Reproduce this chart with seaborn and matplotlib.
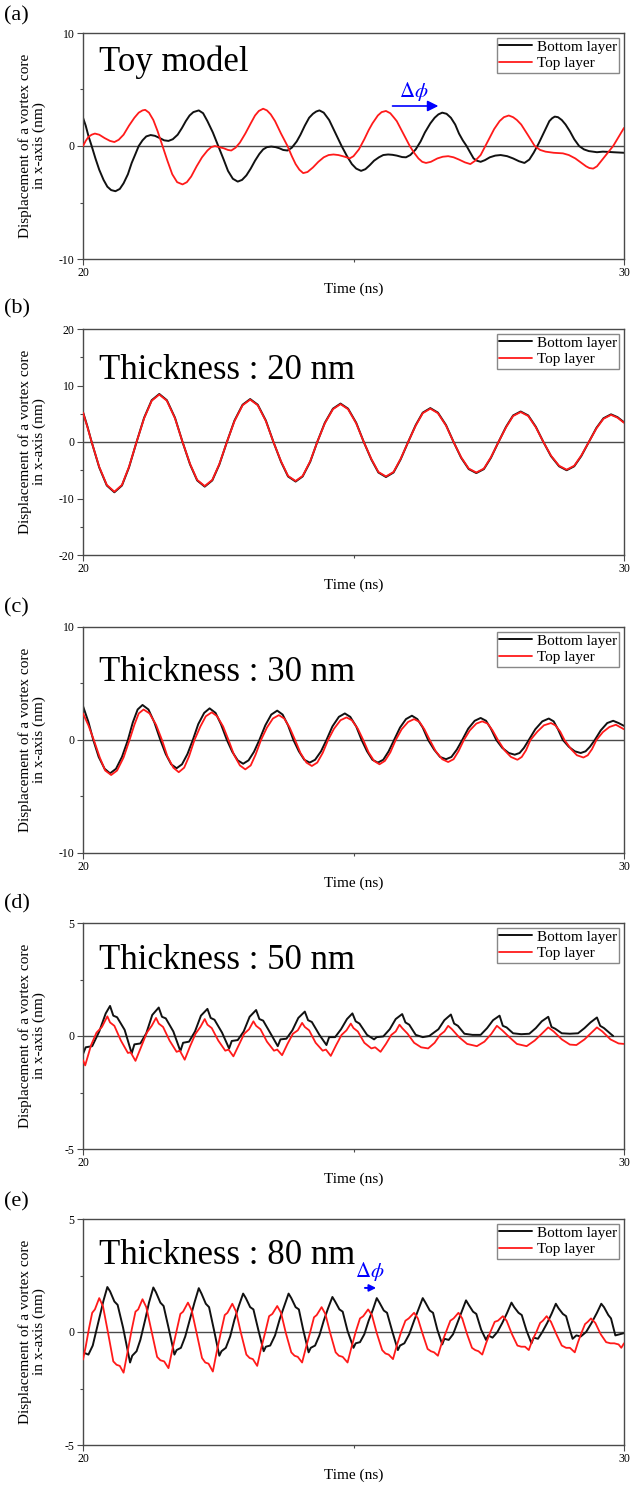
import matplotlib
matplotlib.use("Agg")
import matplotlib.pyplot as plt
import seaborn as sns

# (a) Toy model
t_a_bot = [20.0, 20.05, 20.1, 20.16, 20.23, 20.3, 20.38, 20.45, 20.52, 20.6,
           20.68, 20.75, 20.83, 20.9, 20.97, 21.03, 21.1, 21.17, 21.25, 21.33,
           21.42, 21.5, 21.58, 21.66, 21.75, 21.83, 21.9, 21.97, 22.04, 22.14,
           22.22, 22.3, 22.4, 22.5, 22.6, 22.68, 22.77, 22.86, 22.94, 23.02,
           23.1, 23.18, 23.26, 23.33, 23.4, 23.48, 23.56, 23.63, 23.7, 23.78,
           23.86, 23.95, 24.02, 24.1, 24.18, 24.25, 24.31, 24.37, 24.45, 24.55,
           24.66, 24.78, 24.88, 24.97, 25.05, 25.14, 25.22, 25.3, 25.38, 25.47,
           25.55, 25.64, 25.72, 25.8, 25.9, 25.97, 26.05, 26.15, 26.24, 26.32,
           26.42, 26.5, 26.57, 26.64, 26.72, 26.8, 26.88, 26.95, 27.02, 27.09,
           27.16, 27.22, 27.28, 27.35, 27.43, 27.52, 27.62, 27.72, 27.84, 27.95,
           28.06, 28.16, 28.25, 28.33, 28.42, 28.5, 28.57, 28.62, 28.67, 28.72,
           28.78, 28.85, 28.92, 29.0, 29.08, 29.17, 29.26, 29.35, 29.5, 29.61,
           29.7, 29.8, 30.0]
y_a_bot = [2.5, 1.8, 0.9, 0.0, -1.1, -2.1, -3.0, -3.6, -3.9, -4.0,
           -3.8, -3.3, -2.5, -1.5, -0.7, 0.0, 0.5, 0.85, 0.97, 0.9,
           0.7, 0.5, 0.45, 0.6, 1.0, 1.6, 2.2, 2.7, 3.0, 3.15,
           2.9, 2.2, 1.2, 0.0, -1.2, -2.2, -2.9, -3.15, -3.0, -2.6,
           -2.0, -1.3, -0.7, -0.3, -0.1, -0.05, -0.1, -0.2, -0.35, -0.4,
           -0.15, 0.4, 1.0, 1.8, 2.5, 2.85, 3.05, 3.15, 2.95, 2.3,
           1.2, 0.0, -0.9, -1.6, -2.0, -2.2, -2.05, -1.7, -1.3, -1.0,
           -0.8, -0.75, -0.78, -0.85, -0.98, -1.0, -0.8, -0.3, 0.4, 1.2,
           2.0, 2.5, 2.8, 2.95, 2.85, 2.5, 1.9, 1.1, 0.5, 0.0,
           -0.6, -1.1, -1.3, -1.4, -1.25, -1.0, -0.85, -0.8, -0.9, -1.1,
           -1.35, -1.5, -1.2, -0.6, 0.2, 1.0, 1.7, 2.2, 2.45, 2.6,
           2.55, 2.3, 1.9, 1.3, 0.6, 0.0, -0.3, -0.45, -0.55, -0.5,
           -0.52, -0.55, -0.6]
t_a_top = [20.0, 20.05, 20.1, 20.16, 20.22, 20.3, 20.4, 20.5, 20.58, 20.66,
           20.75, 20.85, 20.95, 21.03, 21.1, 21.15, 21.22, 21.3, 21.38, 21.47,
           21.56, 21.65, 21.74, 21.84, 21.92, 22.0, 22.1, 22.2, 22.3, 22.37,
           22.44, 22.52, 22.6, 22.68, 22.74, 22.82, 22.9, 23.0, 23.1, 23.18,
           23.25, 23.33, 23.4, 23.47, 23.55, 23.66, 23.78, 23.86, 23.93, 24.0,
           24.07, 24.15, 24.25, 24.35, 24.45, 24.54, 24.63, 24.72, 24.8, 24.87,
           24.93, 25.0, 25.1, 25.2, 25.28, 25.35, 25.45, 25.52, 25.6, 25.68,
           25.75, 25.8, 25.92, 26.04, 26.12, 26.2, 26.27, 26.34, 26.43, 26.55,
           26.65, 26.75, 26.85, 26.95, 27.06, 27.16, 27.25, 27.35, 27.47, 27.6,
           27.7, 27.78, 27.87, 27.95, 28.02, 28.1, 28.22, 28.35, 28.45, 28.55,
           28.7, 28.87, 28.98, 29.1, 29.2, 29.3, 29.36, 29.43, 29.5, 29.6,
           29.7, 29.8, 29.9, 30.0]
y_a_top = [0.0, 0.45, 0.8, 1.0, 1.1, 1.0, 0.7, 0.45, 0.35, 0.55,
           1.0, 1.8, 2.5, 2.95, 3.15, 3.2, 2.95, 2.3, 1.3, 0.0,
           -1.3, -2.5, -3.2, -3.4, -3.2, -2.7, -1.8, -1.0, -0.4, -0.1,
           0.0, -0.1, -0.2, -0.35, -0.4, -0.15, 0.3, 1.1, 2.0, 2.7,
           3.1, 3.3, 3.15, 2.8, 2.2, 1.1, 0.0, -0.9, -1.6, -2.1,
           -2.4, -2.3, -1.9, -1.4, -1.0, -0.8, -0.75, -0.8, -0.9, -1.0,
           -1.1, -0.9, -0.3, 0.6, 1.4, 2.0, 2.7, 3.0, 3.1, 2.9,
           2.5, 2.2, 1.1, 0.0, -0.6, -1.1, -1.4, -1.5, -1.4, -1.1,
           -0.95, -0.9, -1.0, -1.2, -1.45, -1.6, -1.3, -0.8, 0.3, 1.5,
           2.2, 2.55, 2.7, 2.55, 2.3, 1.9, 1.0, 0.0, -0.35, -0.5,
           -0.6, -0.65, -0.8, -1.1, -1.45, -1.8, -1.95, -2.0, -1.8, -1.2,
           -0.6, 0.0, 0.8, 1.6]

# (b) 20 nm
t_b = [20.0, 20.08, 20.16, 20.30, 20.44, 20.58, 20.72, 20.85, 20.99, 21.13, 21.27, 21.41, 21.55, 21.70, 21.84,
       21.98, 22.11, 22.25, 22.39, 22.52, 22.66, 22.80, 22.95, 23.09, 23.23, 23.38, 23.52, 23.66, 23.79, 23.93,
       24.06, 24.20, 24.33, 24.47, 24.62, 24.76, 24.90, 25.05, 25.19, 25.33, 25.46, 25.60, 25.74, 25.87, 26.01,
       26.15, 26.28, 26.42, 26.56, 26.71, 26.85, 26.99, 27.13, 27.27, 27.41, 27.54, 27.68, 27.82, 27.95, 28.09,
       28.23, 28.37, 28.51, 28.65, 28.80, 28.94, 29.08, 29.21, 29.35, 29.49, 29.62, 29.76, 29.88, 30.0]
y_b_bot = [5.3, 2.8, 0.0, -4.5, -7.7, -8.9, -7.7, -4.5, 0.0, 4.3, 7.4, 8.5, 7.4, 4.3, 0.0,
           -4.0, -6.8, -7.9, -6.8, -4.0, 0.0, 3.8, 6.6, 7.6, 6.6, 3.8, 0.0, -3.5, -6.1, -7.0,
           -6.1, -3.5, 0.0, 3.4, 5.9, 6.8, 5.9, 3.4, 0.0, -3.1, -5.4, -6.2, -5.4, -3.1, 0.0,
           3.0, 5.2, 6.0, 5.2, 3.0, 0.0, -2.8, -4.8, -5.5, -4.8, -2.8, 0.0, 2.7, 4.7, 5.4,
           4.7, 2.7, 0.0, -2.5, -4.3, -5.0, -4.3, -2.5, 0.0, 2.5, 4.2, 4.9, 4.4, 3.5]
y_b_top = [5.2, 2.7, 0.0, -4.4, -7.6, -8.8, -7.6, -4.4, 0.0, 4.2, 7.3, 8.4, 7.3, 4.2, 0.0,
           -3.9, -6.7, -7.8, -6.7, -3.9, 0.0, 3.7, 6.5, 7.5, 6.5, 3.7, 0.0, -3.4, -6.0, -6.9,
           -6.0, -3.4, 0.0, 3.3, 5.8, 6.7, 5.8, 3.3, 0.0, -3.0, -5.3, -6.1, -5.3, -3.0, 0.0,
           2.9, 5.1, 5.9, 5.1, 2.9, 0.0, -2.7, -4.7, -5.4, -4.7, -2.7, 0.0, 2.6, 4.6, 5.3,
           4.6, 2.6, 0.0, -2.4, -4.2, -4.9, -4.2, -2.4, 0.0, 2.4, 4.1, 4.8, 4.3, 3.4]

# (c) 30 nm
t_c_bot = [20.0, 20.1, 20.19, 20.29, 20.4, 20.5, 20.61, 20.72, 20.83, 20.92, 21.01, 21.1, 21.21, 21.32, 21.43,
           21.53, 21.63, 21.73, 21.83, 21.93, 22.03, 22.13, 22.24, 22.34, 22.45, 22.55, 22.66, 22.76, 22.86, 22.96,
           23.06, 23.16, 23.26, 23.37, 23.48, 23.59, 23.69, 23.79, 23.89, 23.99, 24.09, 24.19, 24.29, 24.4, 24.5,
           24.61, 24.73, 24.84, 24.94, 25.05, 25.15, 25.25, 25.35, 25.45, 25.55, 25.65, 25.75, 25.86, 25.97, 26.08,
           26.18, 26.28, 26.38, 26.49, 26.6, 26.71, 26.81, 26.91, 27.01, 27.12, 27.24, 27.35, 27.45, 27.54, 27.64,
           27.75, 27.87, 27.98, 28.07, 28.15, 28.24, 28.36, 28.49, 28.61, 28.7, 28.78, 28.87, 28.98, 29.09, 29.2,
           29.29, 29.37, 29.46, 29.57, 29.69, 29.8, 29.9, 30.0]
y_c_bot = [3.0, 1.6, 0.0, -1.5, -2.55, -2.95, -2.55, -1.5, 0.0, 1.55, 2.7, 3.1, 2.7, 1.55, 0.0,
           -1.25, -2.15, -2.5, -2.15, -1.25, 0.0, 1.4, 2.4, 2.8, 2.4, 1.4, 0.0, -1.05, -1.8, -2.1,
           -1.8, -1.05, 0.0, 1.3, 2.25, 2.6, 2.25, 1.3, 0.0, -1.0, -1.75, -2.0, -1.75, -1.0, 0.0,
           1.2, 2.05, 2.35, 2.05, 1.2, 0.0, -1.0, -1.75, -2.0, -1.75, -1.0, 0.0, 1.1, 1.85, 2.15,
           1.85, 1.1, 0.0, -0.85, -1.5, -1.7, -1.5, -0.85, 0.0, 1.0, 1.7, 1.95, 1.7, 1.0, 0.0,
           -0.7, -1.15, -1.3, -1.15, -0.7, 0.0, 0.95, 1.65, 1.9, 1.65, 0.95, 0.0, -0.6, -1.0, -1.15,
           -1.0, -0.6, 0.0, 0.85, 1.5, 1.7, 1.5, 1.25]
t_c_top = [20.0, 20.1, 20.2, 20.31, 20.41, 20.52, 20.63, 20.75, 20.86, 20.95, 21.03, 21.12, 21.23, 21.35, 21.46,
           21.56, 21.67, 21.77, 21.87, 21.96, 22.06, 22.17, 22.27, 22.38, 22.48, 22.59, 22.69, 22.79, 22.9, 23.0,
           23.1, 23.19, 23.29, 23.4, 23.51, 23.62, 23.72, 23.82, 23.92, 24.02, 24.13, 24.23, 24.33, 24.43, 24.53,
           24.64, 24.76, 24.87, 24.97, 25.08, 25.18, 25.28, 25.38, 25.48, 25.58, 25.68, 25.78, 25.89, 26.01, 26.12,
           26.22, 26.31, 26.41, 26.52, 26.64, 26.75, 26.85, 26.94, 27.04, 27.15, 27.27, 27.38, 27.48, 27.57, 27.67,
           27.79, 27.91, 28.03, 28.11, 28.19, 28.27, 28.4, 28.52, 28.65, 28.73, 28.82, 28.9, 29.02, 29.13, 29.25,
           29.33, 29.41, 29.49, 29.61, 29.73, 29.85, 30.0]
y_c_top = [2.35, 1.3, 0.0, -1.55, -2.7, -3.1, -2.7, -1.55, 0.0, 1.35, 2.35, 2.7, 2.35, 1.35, 0.0,
           -1.45, -2.45, -2.85, -2.45, -1.45, 0.0, 1.2, 2.1, 2.45, 2.1, 1.2, 0.0, -1.3, -2.25, -2.6,
           -2.25, -1.3, 0.0, 1.1, 1.9, 2.2, 1.9, 1.1, 0.0, -1.15, -2.0, -2.3, -2.0, -1.15, 0.0,
           1.0, 1.75, 2.0, 1.75, 1.0, 0.0, -1.1, -1.85, -2.15, -1.85, -1.1, 0.0, 0.95, 1.6, 1.85,
           1.6, 0.95, 0.0, -1.0, -1.7, -1.95, -1.7, -1.0, 0.0, 0.85, 1.45, 1.65, 1.45, 0.85, 0.0,
           -0.9, -1.5, -1.75, -1.5, -0.9, 0.0, 0.75, 1.3, 1.5, 1.3, 0.75, 0.0, -0.8, -1.35, -1.55,
           -1.35, -0.8, 0.0, 0.7, 1.15, 1.35, 0.95]

# (d) 50 nm
t_d_bot = [20.0, 20.05, 20.17, 20.3, 20.42, 20.5, 20.56, 20.63, 20.77, 20.9,
           20.95, 21.06, 21.17, 21.28, 21.4, 21.46, 21.53, 21.67, 21.8, 21.85,
           21.96, 22.07, 22.18, 22.3, 22.36, 22.43, 22.57, 22.7, 22.75, 22.86,
           22.97, 23.08, 23.2, 23.26, 23.33, 23.47, 23.6, 23.65, 23.76, 23.87,
           23.98, 24.1, 24.16, 24.23, 24.37, 24.5, 24.55, 24.66, 24.77, 24.88,
           24.98, 25.04, 25.11, 25.25, 25.38, 25.43, 25.55, 25.67, 25.78, 25.9,
           25.96, 26.03, 26.15, 26.28, 26.4, 26.57, 26.68, 26.8, 26.86, 26.93,
           27.05, 27.2, 27.35, 27.47, 27.58, 27.7, 27.76, 27.83, 27.95, 28.1,
           28.25, 28.37, 28.48, 28.6, 28.66, 28.73, 28.85, 29.0, 29.15, 29.27,
           29.38, 29.5, 29.56, 29.63, 29.75, 29.8]
y_d_bot = [-0.8, -0.5, -0.45, 0.2, 1.0, 1.33, 0.9, 0.83, 0.27, -0.77,
           -0.37, -0.33, 0.12, 0.93, 1.26, 0.85, 0.78, 0.2, -0.67, -0.3,
           -0.25, 0.2, 0.9, 1.2, 0.8, 0.72, 0.15, -0.55, -0.22, -0.18,
           0.2, 0.85, 1.15, 0.75, 0.68, 0.1, -0.45, -0.15, -0.12, 0.25,
           0.8, 1.08, 0.7, 0.62, 0.05, -0.4, -0.05, -0.05, 0.3, 0.75,
           1.0, 0.65, 0.55, 0.05, -0.15, -0.05, -0.02, 0.3, 0.75, 0.97,
           0.6, 0.5, 0.05, -0.05, 0.0, 0.3, 0.7, 0.95, 0.55, 0.45,
           0.1, 0.05, 0.05, 0.35, 0.7, 0.9, 0.45, 0.38, 0.12, 0.08,
           0.1, 0.35, 0.65, 0.85, 0.4, 0.32, 0.12, 0.1, 0.12, 0.35,
           0.6, 0.82, 0.45, 0.35, 0.1, 0.0]
t_d_top = [20.0, 20.04, 20.15, 20.25, 20.35, 20.45, 20.5, 20.58, 20.7, 20.83,
           20.88, 20.97, 21.08, 21.18, 21.27, 21.35, 21.4, 21.48, 21.6, 21.73,
           21.79, 21.88, 21.98, 22.08, 22.17, 22.25, 22.3, 22.38, 22.5, 22.63,
           22.69, 22.78, 22.88, 22.98, 23.07, 23.15, 23.2, 23.28, 23.4, 23.53,
           23.59, 23.68, 23.78, 23.88, 23.97, 24.05, 24.1, 24.18, 24.3, 24.43,
           24.49, 24.58, 24.68, 24.78, 24.87, 24.95, 25.0, 25.08, 25.2, 25.33,
           25.4, 25.5, 25.6, 25.7, 25.78, 25.85, 25.9, 26.0, 26.12, 26.25,
           26.38, 26.5, 26.6, 26.68, 26.75, 26.82, 26.95, 27.1, 27.28, 27.42,
           27.55, 27.65, 27.75, 27.88, 28.02, 28.2, 28.35, 28.48, 28.6, 28.7,
           28.85, 29.0, 29.12, 29.27, 29.4, 29.5, 29.6, 29.75, 29.9, 30.0]
y_d_top = [-1.07, -1.3, -0.4, 0.15, 0.4, 0.87, 0.6, 0.45, -0.2, -0.75,
           -0.72, -1.1, -0.45, 0.15, 0.45, 0.8, 0.55, 0.4, -0.2, -0.7,
           -0.65, -1.05, -0.45, 0.1, 0.4, 0.75, 0.5, 0.35, -0.2, -0.65,
           -0.6, -0.9, -0.4, 0.1, 0.3, 0.65, 0.45, 0.3, -0.25, -0.65,
           -0.6, -0.85, -0.35, 0.1, 0.25, 0.58, 0.4, 0.25, -0.3, -0.65,
           -0.6, -0.88, -0.4, 0.05, 0.25, 0.55, 0.35, 0.2, -0.3, -0.55,
           -0.5, -0.7, -0.35, 0.05, 0.2, 0.5, 0.35, 0.1, -0.3, -0.5,
           -0.55, -0.3, 0.05, 0.2, 0.45, 0.3, -0.05, -0.35, -0.45, -0.25,
           0.1, 0.45, 0.25, -0.05, -0.35, -0.45, -0.2, 0.1, 0.38, 0.2,
           -0.15, -0.38, -0.4, -0.15, 0.15, 0.38, 0.2, -0.15, -0.33, -0.35]

# (e) 80 nm
t_e_bot = [20.0, 20.05, 20.1, 20.18, 20.28, 20.38,
           20.45, 20.5, 20.58, 20.64, 20.74, 20.87, 20.91, 20.99, 21.06, 21.15, 21.22,
           21.3, 21.35, 21.43, 21.49, 21.58, 21.69, 21.73, 21.81, 21.89, 21.98, 22.06,
           22.14, 22.19, 22.27, 22.33, 22.42, 22.52, 22.56, 22.64, 22.72, 22.8, 22.88,
           22.96, 23.01, 23.09, 23.15, 23.24, 23.34, 23.38, 23.46, 23.55, 23.64, 23.72,
           23.8, 23.85, 23.93, 23.99, 24.07, 24.17, 24.21, 24.29, 24.37, 24.45, 24.53,
           24.61, 24.66, 24.74, 24.8, 24.89, 25.0, 25.04, 25.12, 25.2, 25.28, 25.36,
           25.43, 25.48, 25.56, 25.62, 25.72, 25.82, 25.86, 25.94, 26.03, 26.12, 26.2,
           26.28, 26.33, 26.41, 26.47, 26.55, 26.64, 26.68, 26.76, 26.84, 26.92, 27.0,
           27.08, 27.13, 27.21, 27.27, 27.36, 27.45, 27.49, 27.57, 27.66, 27.75, 27.84,
           27.92, 27.97, 28.05, 28.11, 28.2, 28.29, 28.33, 28.41, 28.49, 28.58, 28.66,
           28.74, 28.79, 28.87, 28.93, 29.0, 29.05, 29.12, 29.2, 29.3, 29.4, 29.5,
           29.58, 29.63, 29.71, 29.76, 29.84, 29.92, 30.0]
y_e_bot = [-0.93, -0.95, -1.0, -0.6, 0.4, 1.4,
           1.99, 1.8, 1.35, 1.2, 0.2, -1.35, -1.05, -0.85, -0.35, 0.55, 1.3,
           1.97, 1.75, 1.3, 1.15, 0.2, -1.0, -0.8, -0.7, -0.2, 0.6, 1.3,
           1.94, 1.7, 1.25, 1.1, 0.1, -1.05, -0.85, -0.7, -0.2, 0.55, 1.15,
           1.7, 1.5, 1.1, 1.0, 0.1, -0.85, -0.65, -0.6, -0.15, 0.6, 1.15,
           1.7, 1.5, 1.1, 1.0, 0.1, -0.9, -0.7, -0.6, -0.15, 0.5, 1.05,
           1.55, 1.35, 1.0, 0.9, 0.05, -0.7, -0.5, -0.45, -0.1, 0.5, 1.0,
           1.5, 1.3, 0.95, 0.85, 0.0, -0.8, -0.6, -0.5, -0.1, 0.5, 1.0,
           1.5, 1.3, 0.95, 0.85, 0.1, -0.55, -0.3, -0.35, -0.1, 0.4, 0.9,
           1.4, 1.2, 0.9, 0.8, 0.1, -0.35, -0.15, -0.25, 0.0, 0.4, 0.85,
           1.3, 1.1, 0.85, 0.75, 0.05, -0.5, -0.25, -0.3, 0.0, 0.4, 0.8,
           1.25, 1.05, 0.8, 0.7, 0.1, -0.3, -0.15, -0.2, 0.0, 0.4, 0.85,
           1.25, 1.1, 0.75, 0.6, -0.15, -0.1, -0.05]
t_e_top = [20.0, 20.05, 20.11, 20.17, 20.22,
           20.3, 20.37, 20.46, 20.56, 20.62, 20.68, 20.75, 20.82, 20.9, 20.97, 21.02,
           21.1, 21.17, 21.27, 21.37, 21.43, 21.5, 21.58, 21.65, 21.73, 21.8, 21.85,
           21.94, 22.01, 22.1, 22.2, 22.26, 22.32, 22.4, 22.47, 22.55, 22.62, 22.67,
           22.76, 22.83, 22.92, 23.02, 23.08, 23.14, 23.22, 23.29, 23.37, 23.44, 23.5,
           23.59, 23.66, 23.75, 23.85, 23.91, 23.97, 24.05, 24.12, 24.2, 24.27, 24.32,
           24.41, 24.48, 24.57, 24.67, 24.73, 24.8, 24.89, 24.96, 25.04, 25.12, 25.18,
           25.27, 25.34, 25.43, 25.53, 25.59, 25.65, 25.73, 25.8, 25.88, 25.96, 26.02,
           26.12, 26.19, 26.28, 26.37, 26.43, 26.49, 26.56, 26.63, 26.71, 26.79, 26.85,
           26.94, 27.01, 27.1, 27.19, 27.25, 27.31, 27.38, 27.45, 27.53, 27.61, 27.67,
           27.76, 27.83, 27.93, 28.03, 28.1, 28.17, 28.24, 28.3, 28.38, 28.45, 28.5,
           28.57, 28.65, 28.75, 28.85, 28.93, 29.0, 29.09, 29.15, 29.22, 29.28, 29.33,
           29.39, 29.47, 29.57, 29.67, 29.75, 29.82, 29.9, 29.95, 30.0]
y_e_top = [-1.22, -0.65, 0.15, 0.85, 1.0,
           1.5, 1.13, 0.0, -1.3, -1.45, -1.5, -1.8, -0.93, 0.1, 0.9, 1.0,
           1.45, 1.1, 0.0, -1.1, -1.25, -1.3, -1.6, -0.8, 0.05, 0.8, 0.9,
           1.3, 0.95, -0.05, -1.15, -1.35, -1.4, -1.75, -0.9, 0.0, 0.75, 0.85,
           1.25, 0.9, -0.05, -1.0, -1.15, -1.2, -1.5, -0.75, 0.0, 0.7, 0.8,
           1.15, 0.85, -0.05, -0.9, -1.05, -1.1, -1.35, -0.7, 0.0, 0.65, 0.75,
           1.1, 0.8, -0.05, -0.9, -1.05, -1.1, -1.35, -0.7, 0.0, 0.6, 0.7,
           1.0, 0.75, -0.05, -0.8, -0.95, -1.0, -1.2, -0.6, 0.0, 0.5, 0.6,
           0.85, 0.6, -0.1, -0.75, -0.85, -0.9, -1.05, -0.5, 0.0, 0.5, 0.6,
           0.85, 0.6, -0.1, -0.7, -0.8, -0.85, -1.0, -0.5, 0.0, 0.45, 0.5,
           0.7, 0.5, -0.1, -0.6, -0.65, -0.65, -0.8, -0.4, 0.0, 0.4, 0.5,
           0.7, 0.45, -0.1, -0.6, -0.7, -0.7, -0.9, -0.45, 0.0, 0.35, 0.45,
           0.6, 0.4, -0.1, -0.45, -0.5, -0.5, -0.55, -0.7, -0.5]

tags = ['(a)', '(b)', '(c)', '(d)', '(e)']
titles = ['Toy model', 'Thickness : 20 nm', 'Thickness : 30 nm', 'Thickness : 50 nm', 'Thickness : 80 nm']
ylims = [10, 20, 10, 5, 5]
ysteps = [10, 10, 10, 5, 5]
bottom_series = [(t_a_bot, y_a_bot), (t_b, y_b_bot), (t_c_bot, y_c_bot), (t_d_bot, y_d_bot), (t_e_bot, y_e_bot)]
top_series = [(t_a_top, y_a_top), (t_b, y_b_top), (t_c_top, y_c_top), (t_d_top, y_d_top), (t_e_top, y_e_top)]

sns.set_style('ticks')
plt.rcParams['font.family'] = ['Liberation Serif', 'DejaVu Serif']
plt.rcParams['mathtext.fontset'] = 'stix'
plt.rcParams['axes.unicode_minus'] = False
for key in ['text.color', 'axes.labelcolor', 'xtick.labelcolor', 'ytick.labelcolor']:
    plt.rcParams[key] = 'black'

W, H = 631, 1485
fig = plt.figure(figsize=(W / 100, H / 100), dpi=100)

ax_bottom_px = [259, 555, 853, 1149, 1445]
tag_y_px = [16, 309, 608, 904, 1202]
title_y = [0.872, 0.815, 0.797, 0.836, 0.84]
spine_col = '#4a4a4a'

for i in range(5):
    ax = fig.add_axes([83 / W, 1 - ax_bottom_px[i] / H, 541 / W, 226 / H])
    L = ylims[i]

    ax.axhline(0, color=spine_col, lw=1.0, zorder=1)
    sns.lineplot(x=bottom_series[i][0], y=bottom_series[i][1], ax=ax, color='#111111', lw=1.4,
                 label='Bottom layer', sort=False, estimator=None, zorder=2)
    sns.lineplot(x=top_series[i][0], y=top_series[i][1], ax=ax, color='#ff1a1a', lw=1.3,
                 label='Top layer', sort=False, estimator=None, zorder=3)

    ax.set_xlim(20, 30)
    ax.set_ylim(-L, L)
    ax.set_xticks([20, 30])
    ax.set_xticks([25], minor=True)
    step = ysteps[i]
    major = [v for v in range(-L, L + 1, step)]
    ax.set_yticks(major)
    ax.set_yticks([v + step / 2 for v in major[:-1]], minor=True)
    ax.tick_params(which='major', direction='out', length=4, width=0.8, color=spine_col,
                   labelsize=8.5, pad=2)
    ax.tick_params(which='minor', direction='out', length=2.5, width=0.8, color=spine_col)
    for sp in ax.spines.values():
        sp.set_color(spine_col)
        sp.set_linewidth(1.0)

    ax.set_xlabel('Time (ns)', fontsize=11)
    ax.set_ylabel('Displacement of a vortex core\nin x-axis (nm)', fontsize=11, linespacing=1.1)
    ax.xaxis.set_label_coords(0.5, -0.105)
    ax.yaxis.set_label_coords(-0.068, 0.5)

    ax.text(0.03, title_y[i], titles[i], transform=ax.transAxes, fontsize=25,
            ha='left', va='center')

    ax.legend(loc='upper right', frameon=True, fancybox=False, edgecolor='#888888',
              framealpha=1, fontsize=11, handlelength=2.2, handletextpad=0.3,
              borderpad=0.15, labelspacing=0.2, borderaxespad=0.3)

    fig.text(4 / W, 1 - tag_y_px[i] / H, tags[i], fontsize=16, ha='left', va='center')

# phase shift markers
axes = fig.axes
ax_a, ax_e = axes[0], axes[4]
ax_a.annotate('', xy=(26.62, 3.54), xytext=(25.67, 3.54),
              arrowprops=dict(arrowstyle='-|>', color='blue', lw=1.2, mutation_scale=16))
ax_a.text(26.12, 4.8, r'$\Delta\phi$', color='blue', fontsize=15, ha='center', va='center')
ax_e.annotate('', xy=(25.47, 1.95), xytext=(25.16, 1.95),
              arrowprops=dict(arrowstyle='-|>', color='blue', lw=1.4, mutation_scale=10))
ax_e.text(25.3, 2.68, r'$\Delta\phi$', color='blue', fontsize=15, ha='center', va='center')

fig.savefig('out.png', dpi=100)
